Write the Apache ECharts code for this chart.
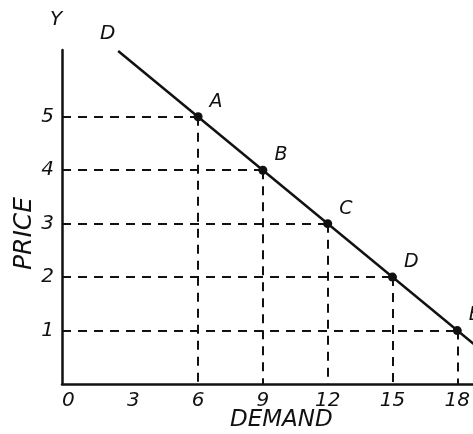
<!doctype html>
<html>
<head>
<meta charset="utf-8">
<title>Demand curve</title>
<script src="https://cdn.jsdelivr.net/npm/echarts@6/dist/echarts.min.js"></script>
<style>
html, body { margin: 0; padding: 0; background: #fff; }
#chart { width: 473px; height: 434px; }
</style>
</head>
<body>
<div id="chart"></div>
<script>
// points on the demand schedule
var demand = [6, 9, 12, 15, 18];
var price = [5, 4, 3, 2, 1];
var pointNames = ['A', 'B', 'C', 'D', 'E'];
// the drawn curve runs a little past the points at both ends
var curveDemand = [2.3, 19];
var curvePrice = [6.23, 0.67];
var xTicks = [0, 3, 6, 9, 12, 15, 18];
var yTicks = [1, 2, 3, 4, 5];

var chart = echarts.init(document.getElementById('chart'));
var ink = '#111';
var font = 'DejaVu Sans';

var guides = [];
for (var i = 0; i < demand.length; i++) {
	guides.push([{ coord: [-0.3, price[i]] }, { coord: [demand[i], price[i]] }]);
	guides.push([{ coord: [demand[i], price[i]] }, { coord: [demand[i], 0] }]);
}

var points = demand.map(function(d, i) {
	return { value: [d, price[i]], name: pointNames[i] };
});

chart.setOption({
	animation: false,
	backgroundColor: '#fff',
	grid: { left: 62, right: 0, top: 50, bottom: 50 },
	xAxis: {
		type: 'value',
		min: -0.3,
		max: 18.7,
		splitLine: { show: false },
		axisLine: { onZero: false, lineStyle: { color: ink, width: 2.5 } },
		axisTick: { show: false },
		axisLabel: {
			customValues: xTicks,
			color: ink,
			fontFamily: font,
			fontStyle: 'italic',
			fontSize: 20,
			margin: 7
		}
	},
	yAxis: {
		type: 'value',
		min: 0,
		max: 6.25,
		splitLine: { show: false },
		axisLine: { onZero: false, lineStyle: { color: ink, width: 2.5 } },
		axisTick: { show: false },
		axisLabel: {
			customValues: yTicks,
			color: ink,
			fontFamily: font,
			fontStyle: 'italic',
			fontSize: 20,
			margin: 8
		}
	},
	graphic: [
		{ type: 'text', left: 50, top: 10, style: { text: 'Y', fill: ink, font: 'italic 20px "DejaVu Sans"' } },
		{ type: 'text', left: 100, top: 24, style: { text: 'D', fill: ink, font: 'italic 20px "DejaVu Sans"' } },
		{ type: 'text', left: 230, top: 409, style: { text: 'DEMAND', fill: ink, font: 'italic 23px "DejaVu Sans"' } },
		{
			type: 'text', x: 12, y: 270, rotation: Math.PI / 2,
			style: { text: 'PRICE', fill: ink, font: 'italic 25px "DejaVu Sans"' }
		}
	],
	series: [
		{
			type: 'line',
			data: [[curveDemand[0], curvePrice[0]], [curveDemand[1], curvePrice[1]]],
			symbol: 'none',
			lineStyle: { color: ink, width: 2.5 },
			silent: true,
			markLine: {
				symbol: 'none',
				silent: true,
				label: { show: false },
				lineStyle: { color: ink, width: 2, type: [9, 7] },
				data: guides
			}
		},
		{
			type: 'scatter',
			data: points,
			symbolSize: 9,
			silent: true,
			itemStyle: { color: ink, opacity: 1 },
			label: {
				show: true,
				formatter: '{b}',
				position: 'right',
				offset: [2, -15],
				color: ink,
				opacity: 1,
				textBorderWidth: 0,
				fontFamily: font,
				fontStyle: 'italic',
				fontSize: 19
			}
		}
	]
});
</script>
</body>
</html>
